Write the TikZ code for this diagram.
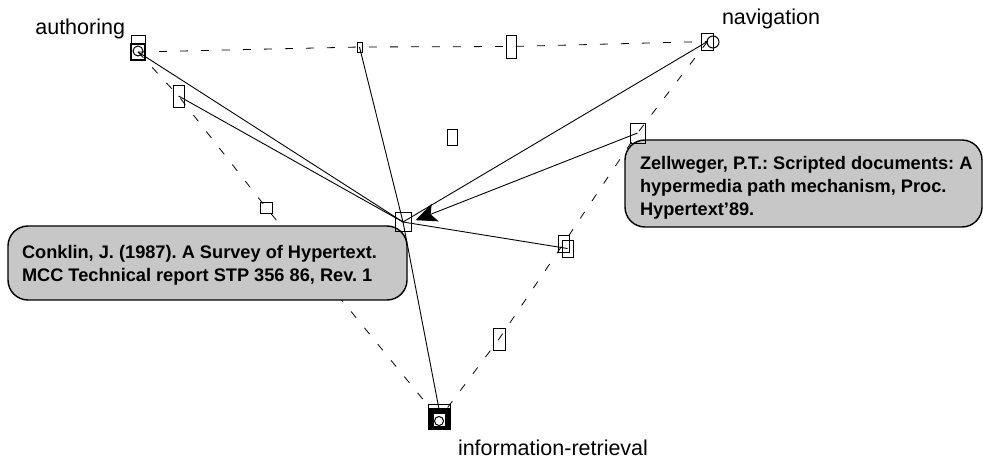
\documentclass[tikz,border=0pt]{standalone}
\usepackage{fontspec}
\setmainfont{Liberation Sans}
\usetikzlibrary{arrows.meta}
\tikzset{
    every node/.style={inner sep=0pt, outer sep=0pt}
}
\tikzset{
    every edge/.append style={line width=0.9pt}
}
\tikzset{
    lnk/.style={rectangle, draw, line width=0.9pt},
    hub/.style={rectangle, draw, line width=2.4pt},
    eye/.style={circle, draw, line width=1pt, minimum size=10pt},
    tag/.style={font=\fontsize{21.5}{25}\selectfont},
    note/.style={rectangle, draw, line width=1.4pt, fill=black!22,
        rounded corners=20pt},
    notetext/.style={align=left, anchor=west,
        font=\frenchspacing\bfseries\fontsize{18.2}{23}\selectfont},
    dsh/.style={line width=0.8pt, dash pattern=on 8pt off 13pt},
    ptr/.style={-{Stealth[length=21pt, width=19pt, inset=5pt]}, shorten >=5pt}
}
\pgfdeclarelayer{background}
\pgfsetlayers{background,main}

\begin{document}
\begin{tikzpicture}[x=1pt, y=-1pt]
	\useasboundingbox (0,0) rectangle (983,462);

	% annotations
	\node[note, minimum width=399pt, minimum height=74pt] (conkbox) at (207.5,263) {};
	\node[notetext] (conktext) at (22,265) {Conklin, J. (1987). A Survey of Hypertext.\\MCC Technical report STP 356 86, Rev. 1};
	\node[note, minimum width=357pt, minimum height=87pt] (zellbox) at (803.5,183.5) {};
	\node[notetext] (zelltext) at (640,188) {Zellweger, P.T.: Scripted documents: A\\hypermedia path mechanism, Proc.\\Hypertext'89.};

	% link anchors
	\node[draw, line width=0.8pt, minimum width=14pt, minimum height=25pt] (authtop) at (138,47.5) {};
	\node[hub, minimum width=14pt, minimum height=16pt] (auth) at (138,52) {};
	\node[eye] (autheye) at (138,51) {};
	\node[lnk, minimum width=12pt, minimum height=17pt] (nav) at (707.5,41.5) {};
	\node[eye, minimum size=12pt] (naveye) at (713,42) {};
	\node[draw, line width=0.8pt, minimum width=22pt, minimum height=25pt] (irtop) at (439,416.5) {};
	\node[hub, fill=black, minimum width=20pt, minimum height=20pt] (ir) at (439,419) {};
	\node[rectangle, fill=white, minimum width=11pt, minimum height=12pt] (irhole) at (439,419.5) {};
	\node[eye, fill=white, minimum size=9pt] (ireye) at (439,421) {};

	\node[lnk, minimum width=16pt, minimum height=19pt] (conk) at (403,222) {};
	\node[lnk, minimum width=5pt, minimum height=10pt] (t1) at (359.5,47) {};
	\node[lnk, minimum width=10pt, minimum height=23pt] (t2) at (511,46.5) {};
	\node[lnk, minimum width=11pt, minimum height=22pt] (l1) at (178.5,96) {};
	\node[lnk, minimum width=12pt, minimum height=11pt] (l2) at (266,207.5) {};
	\node[lnk, minimum width=10pt, minimum height=16pt] (mid) at (452,137) {};
	\node[lnk, minimum width=15pt, minimum height=20pt] (z) at (637.5,133) {};
	\node[lnk, minimum width=11pt, minimum height=17pt] (r2) at (563.5,243.5) {};
	\node[lnk, minimum width=11pt, minimum height=17pt] (r2b) at (567.5,248.5) {};
	\node[lnk, minimum width=12pt, minimum height=22pt] (r3) at (499,339) {};

	% labels
	\node[tag, anchor=base east] (authlbl) at (125,35) {authoring};
	\node[tag, anchor=base west] (navlbl) at (722,25) {navigation};
	\node[tag, anchor=base west] (irlbl) at (458,455) {information-retrieval};

	\begin{pgfonlayer}{background}
		\draw[dsh] (auth.center) -- (t1.center) -- (t2.center) -- (nav.center);
		\draw[dsh] (auth.center) -- (l1.center) -- (l2.center) -- (ir.center);
		\draw[dsh] (nav.center) -- (z.center) -- (r2.center) -- (r3.center)
			-- (ir.center);
	\end{pgfonlayer}

	\draw (auth.center) edge (conk.center); \draw (l1.center) edge (conk.center);
	\draw (t1.center) edge (conk.center); \draw (conk.center) edge (nav.center);
	\draw (conk.center) edge (r2b.center); \draw (conk.center) edge (ir.north);
	\draw (z.center) edge[ptr] (conk.east);
\end{tikzpicture}
\end{document}
